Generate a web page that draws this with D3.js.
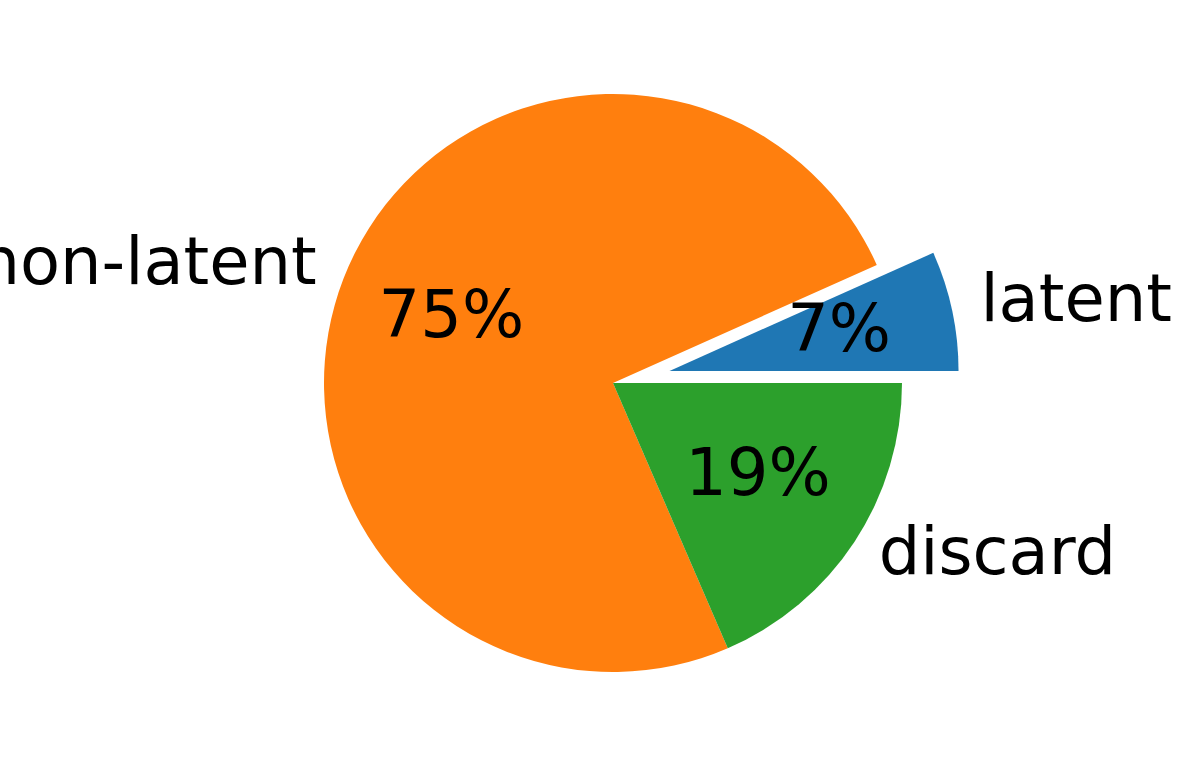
<!DOCTYPE html>
<html>
<head>
<meta charset="utf-8">
<script src="https://cdn.jsdelivr.net/npm/d3@7"></script>
<style>
  body { margin: 0; background: #fff; }
  text { font-family: "DejaVu Sans", sans-serif; }
</style>
</head>
<body>
<svg id="chart" width="1196" height="770"></svg>
<script>
// pie slices, in matplotlib order (counter-clockwise from 3 o'clock)
var labels = ["latent", "non-latent", "discard"];
var values = [6.7, 74.8, 18.5];
var colors = ["#1f77b4", "#ff7f0e", "#2ca02c"];
var explode = [0.2, 0, 0];

var width = 1196, height = 770;
var cx = 613, cy = 383, radius = 289;
var fontSize = 65.5;

var svg = d3.select("#chart");

// start at 3 o'clock, go counter-clockwise (d3 angles are clockwise from 12)
var pie = d3.pie()
    .sort(null)
    .startAngle(Math.PI / 2)
    .endAngle(Math.PI / 2 - 2 * Math.PI);

var arc = d3.arc().innerRadius(0).outerRadius(radius);

var total = d3.sum(values);
var data = pie(values);

var g = svg.append("g");

data.forEach(function (d, i) {
    var mid = (d.startAngle + d.endAngle) / 2;   // d3 angle
    var ox = explode[i] * radius * Math.sin(mid);
    var oy = -explode[i] * radius * Math.cos(mid);
    var x0 = cx + ox, y0 = cy + oy;

    g.append("path")
        .attr("transform", "translate(" + x0 + "," + y0 + ")")
        .attr("d", arc(d))
        .style("fill", colors[i]);

    // label outside at 1.1 r
    var lx = x0 + 1.1 * radius * Math.sin(mid);
    var ly = y0 - 1.1 * radius * Math.cos(mid);
    svg.append("text")
        .attr("x", lx)
        .attr("y", ly)
        .attr("dy", "0.25em")
        .style("text-anchor", Math.sin(mid) > 0 ? "start" : "end")
        .style("font-size", fontSize + "px")
        .style("fill", "#000")
        .text(labels[i]);

    // percentage at 0.6 r
    var px = x0 + 0.6 * radius * Math.sin(mid);
    var py = y0 - 0.6 * radius * Math.cos(mid);
    svg.append("text")
        .attr("x", px)
        .attr("y", py)
        .attr("dy", "0.25em")
        .style("text-anchor", "middle")
        .style("font-size", fontSize + "px")
        .style("fill", "#000")
        .text(Math.round(values[i] / total * 100) + "%");
});
</script>
</body>
</html>
